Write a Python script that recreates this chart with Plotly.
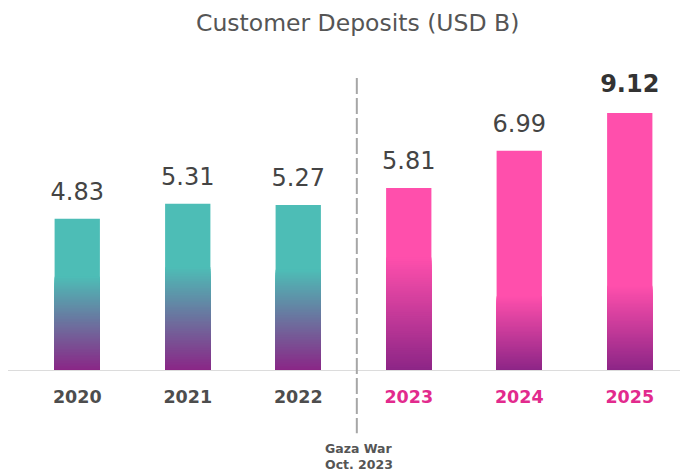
import plotly.graph_objects as go

# ---- data ----
years = ["2020", "2021", "2022", "2023", "2024", "2025"]
label_values = [4.83, 5.31, 5.27, 5.81, 6.99, 9.12]
bar_heights = [4.83, 5.31, 5.27, 5.81, 6.99, 8.19]   # bar heights as drawn in the reference
title_text = "Customer Deposits (USD B)"
event_text = "Gaza War<br>Oct. 2023"

# ---- style ----
TEAL = (77, 189, 182)
PINK = (255, 79, 172)
PURPLE = (139, 37, 134)
top_colors = [TEAL, TEAL, TEAL, PINK, PINK, PINK]
grad_frac = [0.62, 0.62, 0.61, 0.62, 0.34, 0.33]   # share of bar height used by the gradient
tick_colors = ["#4d4d4d"] * 3 + ["#e22a8d"] * 3
FONT = "DejaVu Sans"
PX_PER_UNIT = 31.5
N = 60

def rgb(c):
    return "rgb(%d,%d,%d)" % c

def mix(a, b, t):
    return tuple(round(a[j] + (b[j] - a[j]) * t) for j in range(3))

fig = go.Figure()

# solid full-height bars
fig.add_trace(go.Bar(
    x=years, y=bar_heights,
    marker=dict(color=[rgb(c) for c in top_colors], line=dict(width=0)),
    width=0.41, hoverinfo="skip", showlegend=False,
))
# gradient: overlapping bars from the top of the gradient down to the base
for k in range(N - 1, -1, -1):
    t = (k + 0.5) / N
    ys = [h * g * (k + 1) / N for h, g in zip(bar_heights, grad_frac)]
    cols = [rgb(mix(PURPLE, c, t)) for c in top_colors]
    fig.add_trace(go.Bar(
        x=years, y=ys,
        marker=dict(color=cols, line=dict(width=0)),
        width=0.41, hoverinfo="skip", showlegend=False,
    ))

# value labels (regular for first five, bold for last)
fig.add_trace(go.Scatter(
    x=years[:-1], y=[h + 25 / PX_PER_UNIT for h in bar_heights[:-1]],
    text=["%.2f" % v for v in label_values[:-1]], mode="text", textposition="middle center",
    textfont=dict(family=FONT, size=24, color="#444444"),
    hoverinfo="skip", showlegend=False, cliponaxis=False,
))
fig.add_trace(go.Scatter(
    x=years[-1:], y=[h + 27 / PX_PER_UNIT for h in bar_heights[-1:]],
    text=["<b>%.2f</b>" % v for v in label_values[-1:]], mode="text", textposition="middle center",
    textfont=dict(family=FONT, size=24, color="#333333"),
    hoverinfo="skip", showlegend=False, cliponaxis=False,
))

# title
fig.add_annotation(
    x=0.506, y=1.0, xref="paper", yref="paper", yshift=2,
    text=title_text, showarrow=False, xanchor="center", yanchor="middle",
    font=dict(family=FONT, size=23.5, color="#555555"),
)

# event annotation
fig.add_annotation(
    x=0.454, y=-0.1965, xref="paper", yref="paper",
    text="<b>" + event_text + "</b>", showarrow=False, xanchor="left", yanchor="top",
    align="left", font=dict(family=FONT, size=12.5, color="#555555"),
)

# baseline
fig.add_shape(type="line", xref="paper", yref="y", x0=-0.0211, x1=1.0166, y0=0, y1=0,
              line=dict(color="#dcdcdc", width=2), layer="above")
# dashed separator
fig.add_shape(type="line", xref="x", yref="paper", x0=2.53, x1=2.53, y0=0.847, y1=-0.18,
              line=dict(color="#a6a6a6", width=2, dash="16px,4px"), layer="above")

ticktext = ['<span style="color:%s"><b>%s</b></span>' % (c, y) for c, y in zip(tick_colors, years)]

fig.update_layout(
    width=688, height=475,
    margin=dict(l=14, r=11, t=17, b=112),
    paper_bgcolor="white", plot_bgcolor="white",
    barmode="overlay",
    showlegend=False,
    xaxis=dict(type="category", range=[-0.5, 5.5], tickmode="array", tickvals=years,
               ticktext=ticktext, showgrid=False, zeroline=False, showline=False,
               ticks="", ticklabelstandoff=13,
               tickfont=dict(family=FONT, size=17.5, color="#4d4d4d")),
    yaxis=dict(range=[0, 346 / PX_PER_UNIT], visible=False, showgrid=False, zeroline=False),
)

fig.write_html("out.html")
